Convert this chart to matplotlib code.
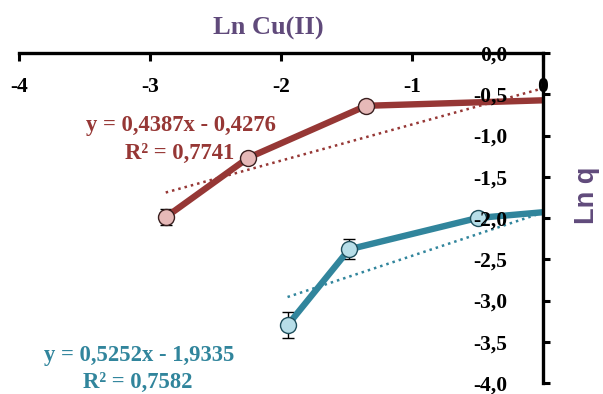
import matplotlib
matplotlib.use("Agg")
import matplotlib.pyplot as plt
import numpy as np
from matplotlib.ticker import FuncFormatter

# Data: ln of Cu(II) concentration vs ln q for two sorbents
red_x = [-2.88, -2.25, -1.35, 0.17]
red_y = [-1.99, -1.27, -0.64, -0.565]
red_err = [0.10, 0.06, 0.04, 0.03]
red_slope, red_icpt, red_r2 = 0.4387, -0.4276, 0.7741

blue_x = [-1.95, -1.48, -0.50, 0.50]
blue_y = [-3.30, -2.38, -2.00, -1.86]
blue_err = [0.16, 0.12, 0.04, 0.03]
blue_slope, blue_icpt, blue_r2 = 0.5252, -1.9335, 0.7582

x_ticks = [-4, -3, -2, -1, 0]
y_ticks = [0.0, -0.5, -1.0, -1.5, -2.0, -2.5, -3.0, -3.5, -4.0]

RED = "#963735"
RED_FILL = "#E6B9B8"
BLUE = "#31859C"
BLUE_FILL = "#B7DEE8"
PURPLE = "#604A7B"

serif = ["Liberation Serif", "DejaVu Serif"]

fig = plt.figure(figsize=(6.03, 3.94), dpi=100)
ax = fig.add_axes([19 / 603, 1 - 383 / 394, (543 - 19) / 603, (383 - 53) / 394])
ax.set_xlim(-4, 0)
ax.set_ylim(-4, 0)


def fmt_comma(v, pos=None):
    return f"{v:.1f}".replace(".", ",")


def eq_text(slope, icpt):
    sign = "-" if icpt < 0 else "+"
    return f"y = {slope:.4f}x {sign} {abs(icpt):.4f}".replace(".", ",")


for xs, ys, errs, col, fill, edge, slope, icpt in [
    (red_x, red_y, red_err, RED, RED_FILL, "#3a2020", red_slope, red_icpt),
    (blue_x, blue_y, blue_err, BLUE, BLUE_FILL, "#1f4f5c", blue_slope, blue_icpt),
]:
    ax.errorbar(xs, ys, yerr=errs, fmt="none", ecolor="black",
                elinewidth=1.0, capsize=4, capthick=1.0, zorder=2)
    ax.plot(xs, ys, color=col, lw=4.6, zorder=3, solid_capstyle="butt")
    ax.plot(xs, ys, linestyle="none", marker="o", ms=11.5,
            mfc=fill, mec=edge, mew=1.0, zorder=4)
    tx = np.array([min(xs), max(xs)])
    ax.plot(tx, slope * tx + icpt, color=col, lw=1.8,
            linestyle=(0, (1, 1.6)), zorder=3)

# Spines: top axis at y = 0, right axis at x = 0
for s in ("left", "bottom"):
    ax.spines[s].set_visible(False)
for s in ("top", "right"):
    ax.spines[s].set_linewidth(2.4)
    ax.spines[s].set_color("black")
    ax.spines[s].set_zorder(6)
ax.xaxis.set_zorder(6)
ax.yaxis.set_zorder(6)

ax.xaxis.set_ticks_position("top")
ax.set_xticks(x_ticks)
ax.xaxis.set_major_formatter(FuncFormatter(lambda v, p: f"{v:.0f}"))
ax.tick_params(axis="x", direction="in", length=5.5, width=2.2,
               labeltop=True, labelbottom=False, pad=-31.5, labelsize=15.5)

ax.yaxis.set_ticks_position("right")
ax.set_yticks(y_ticks)
ax.yaxis.set_major_formatter(FuncFormatter(fmt_comma))
ax.tick_params(axis="y", direction="out", length=5, width=2.2,
               labelright=True, labelleft=False, pad=-30.5, labelsize=15.5)
for lab in ax.get_yticklabels():
    lab.set_ha("right")

for lab in ax.get_xticklabels() + ax.get_yticklabels():
    lab.set_fontfamily(serif)
    lab.set_fontweight("bold")

# Axis titles
fig.text(268 / 603, 1 - 28 / 394, "Ln Cu(II)", ha="center", va="center",
         color=PURPLE, fontsize=19, fontweight="bold", family=serif)
fig.text(587 / 603, 1 - 195 / 394, "Ln q", ha="center", va="center",
         rotation=90, color=PURPLE, fontsize=19.5, fontweight="bold",
         family=["Liberation Sans", "DejaVu Sans"])

# Trend line equations
fs_eq = 16.3
fig.text(181 / 603, 1 - 125 / 394, eq_text(red_slope, red_icpt),
         ha="center", va="center", color=RED, fontsize=fs_eq,
         fontweight="bold", family=serif)
fig.text(180 / 603, 1 - 153 / 394, f"R² = {red_r2:.4f}".replace(".", ","),
         ha="center", va="center", color=RED, fontsize=fs_eq,
         fontweight="bold", family=serif)
fig.text(139 / 603, 1 - 355 / 394, eq_text(blue_slope, blue_icpt),
         ha="center", va="center", color=BLUE, fontsize=fs_eq,
         fontweight="bold", family=serif)
fig.text(138 / 603, 1 - 382 / 394, f"R² = {blue_r2:.4f}".replace(".", ","),
         ha="center", va="center", color=BLUE, fontsize=fs_eq,
         fontweight="bold", family=serif)

fig.savefig("out.png", dpi=100)
